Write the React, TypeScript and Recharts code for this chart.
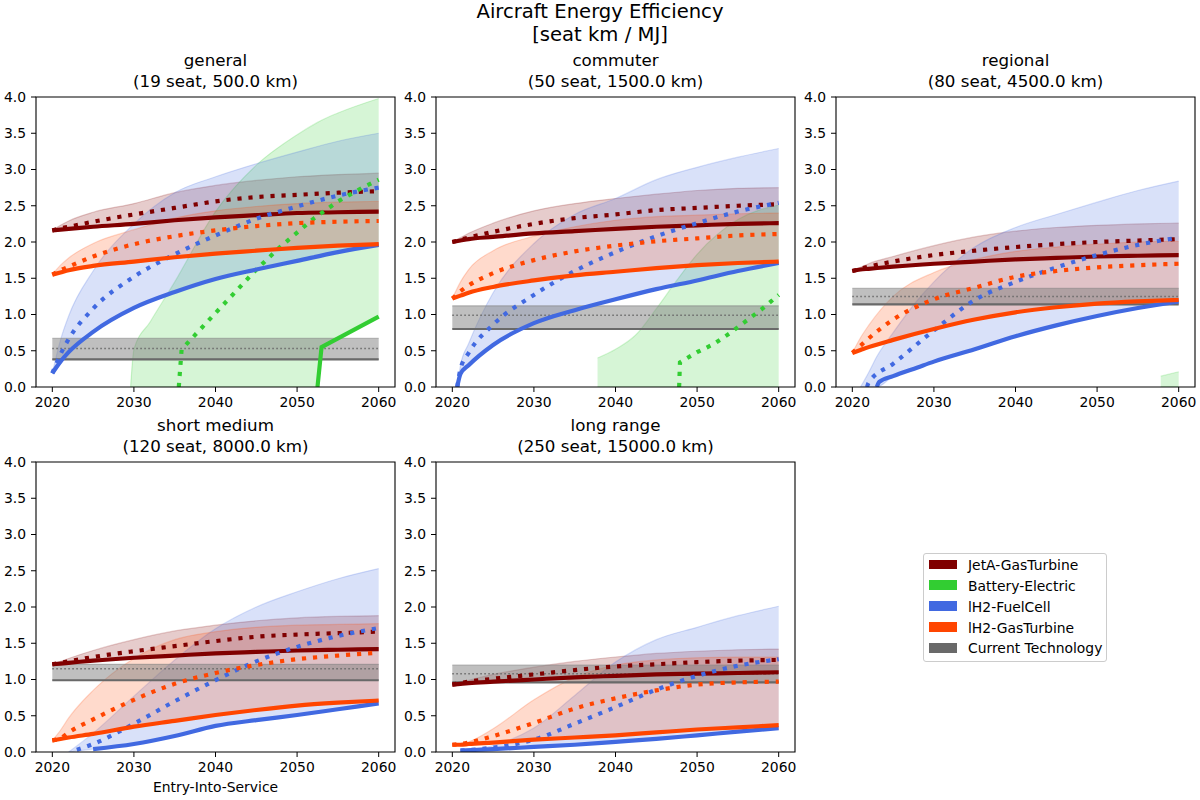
import React from 'react'
import { ComposedChart, Line, Area, XAxis, YAxis, ReferenceArea } from 'recharts'

// shared x grid for most curves
const YEARS = [2020, 2021, 2022, 2025, 2030, 2035, 2040, 2045, 2050, 2055, 2060]
const CURRENT_YEARS = [2020, 2060]
const X_TICKS = [2020, 2030, 2040, 2050, 2060]
const Y_TICKS = [0, 0.5, 1, 1.5, 2, 2.5, 3, 3.5, 4]

const JET = '#800000'
const BAT = '#32cd32'
const FC = '#4169e1'
const GT = '#ff4500'
const GRAY = '#808080'
const DIMGRAY = '#696969'

const LEGEND_LABELS = ['JetA-GasTurbine', 'Battery-Electric', 'lH2-FuelCell', 'lH2-GasTurbine', 'Current Technology']
const LEGEND_COLORS = [JET, BAT, FC, GT, DIMGRAY]

// general (19 seat, 500 km)
const genJetSolid = [2.16, 2.17, 2.18, 2.21, 2.25, 2.3, 2.34, 2.37, 2.4, 2.41, 2.42]
const genJetDotted = [2.16, 2.19, 2.21, 2.28, 2.38, 2.47, 2.56, 2.62, 2.65, 2.68, 2.7]
const genJetHigh = [2.16, 2.23, 2.29, 2.41, 2.53, 2.68, 2.78, 2.85, 2.9, 2.93, 2.95]
const genGtSolid = [1.55, 1.58, 1.61, 1.67, 1.73, 1.79, 1.84, 1.88, 1.92, 1.95, 1.97]
const genGtDotted = [1.55, 1.61, 1.66, 1.8, 1.97, 2.08, 2.16, 2.22, 2.26, 2.28, 2.29]
const genGtHigh = [1.55, 1.68, 1.78, 1.98, 2.17, 2.33, 2.43, 2.49, 2.53, 2.55, 2.56]
const genFcSolid = [0.19, 0.35, 0.48, 0.76, 1.09, 1.31, 1.49, 1.62, 1.74, 1.86, 1.96]
const genFcDotted = [0.19, 0.45, 0.66, 1.08, 1.52, 1.83, 2.09, 2.32, 2.49, 2.64, 2.75]
const genFcHigh = [0.19, 0.65, 0.98, 1.6, 2.25, 2.68, 2.9, 3.08, 3.24, 3.39, 3.5]
const genBatBandYears = [2029.6, 2030, 2032, 2035, 2040, 2045, 2050, 2052.5, 2053, 2055, 2060]
const genBatBandLow = [0, 0, 0, 0, 0, 0, 0, 0, 0.55, 0.67, 0.97]
const genBatBandHigh = [0, 0.52, 0.9, 1.45, 2.42, 3.06, 3.48, 3.65, 3.68, 3.78, 3.98]
const genBatSolidYears = [2052.5, 2053, 2060]
const genBatSolid = [0, 0.55, 0.97]
const genBatDottedYears = [2035.5, 2035.85, 2040, 2045, 2048, 2050, 2052, 2055, 2058, 2060]
const genBatDotted = [0, 0.52, 1.02, 1.62, 1.94, 2.13, 2.32, 2.56, 2.75, 2.86]
const genCurrent = [0.38, 0.53, 0.67]

// commuter (50 seat, 1500 km)
const comJetSolid = [2.0, 2.02, 2.04, 2.07, 2.12, 2.15, 2.18, 2.21, 2.23, 2.25, 2.26]
const comJetDotted = [2.0, 2.03, 2.06, 2.14, 2.25, 2.33, 2.38, 2.44, 2.47, 2.5, 2.52]
const comJetHigh = [2.0, 2.06, 2.12, 2.26, 2.43, 2.53, 2.6, 2.66, 2.71, 2.74, 2.75]
const comGtSolid = [1.22, 1.26, 1.3, 1.38, 1.47, 1.54, 1.59, 1.64, 1.68, 1.71, 1.73]
const comGtDotted = [1.22, 1.32, 1.4, 1.57, 1.75, 1.87, 1.95, 2.01, 2.05, 2.09, 2.11]
const comGtHigh = [1.22, 1.45, 1.62, 1.88, 2.08, 2.21, 2.3, 2.35, 2.37, 2.39, 2.4]
const comFcYears = [2020.6, 2021, 2022, 2025, 2030, 2035, 2040, 2045, 2050, 2055, 2060]
const comFcSolid = [0, 0.18, 0.3, 0.58, 0.88, 1.06, 1.21, 1.35, 1.47, 1.6, 1.71]
const comFcDotted = [0, 0.25, 0.47, 0.86, 1.27, 1.6, 1.86, 2.08, 2.26, 2.42, 2.54]
const comFcHigh = [0, 0.3, 0.6, 1.3, 1.98, 2.38, 2.6, 2.86, 3.03, 3.17, 3.29]
const comBatBandYears = [2037.8, 2040, 2042.5, 2045, 2047.5, 2050, 2055, 2060]
const comBatBandLow = [0, 0, 0, 0, 0, 0, 0, 0]
const comBatBandHigh = [0.4, 0.52, 0.72, 1.08, 1.47, 1.83, 2.31, 2.51]
const comBatDottedYears = [2047.8, 2047.9, 2050, 2052, 2054, 2056, 2058, 2060]
const comBatDotted = [0, 0.34, 0.48, 0.59, 0.74, 0.91, 1.08, 1.27]
const comCurrent = [0.8, 0.99, 1.12]

// regional (80 seat, 4500 km)
const regJetSolid = [1.6, 1.62, 1.63, 1.66, 1.7, 1.73, 1.76, 1.78, 1.8, 1.81, 1.82]
const regJetDotted = [1.6, 1.63, 1.66, 1.73, 1.82, 1.88, 1.93, 1.97, 2.0, 2.02, 2.04]
const regJetHigh = [1.6, 1.65, 1.7, 1.8, 1.95, 2.07, 2.15, 2.2, 2.23, 2.25, 2.26]
const regGtSolid = [0.47, 0.51, 0.55, 0.65, 0.8, 0.93, 1.03, 1.1, 1.15, 1.18, 1.2]
const regGtDotted = [0.47, 0.57, 0.67, 0.93, 1.21, 1.37, 1.52, 1.6, 1.65, 1.68, 1.7]
const regGtHigh = [0.47, 0.68, 0.85, 1.25, 1.58, 1.76, 1.87, 1.93, 1.97, 2.0, 2.01]
const regFcSolidYears = [2023, 2023.3, 2025, 2028, 2030, 2035, 2040, 2045, 2050, 2055, 2060]
const regFcSolid = [0, 0.07, 0.15, 0.27, 0.35, 0.52, 0.7, 0.85, 0.98, 1.09, 1.18]
const regFcDottedYears = [2021.8, 2022, 2025, 2030, 2035, 2040, 2045, 2050, 2055, 2060]
const regFcDotted = [0, 0.06, 0.32, 0.78, 1.2, 1.45, 1.65, 1.82, 1.96, 2.06]
const regFcBandYears = [2021, 2022, 2023, 2025, 2028, 2030, 2035, 2040, 2045, 2050, 2055, 2060]
const regFcBandLow = [0, 0, 0, 0.15, 0.27, 0.35, 0.52, 0.7, 0.85, 0.98, 1.09, 1.18]
const regFcBandHigh = [0, 0.2, 0.42, 0.75, 1.2, 1.45, 1.93, 2.2, 2.38, 2.55, 2.71, 2.84]
const regBatBandYears = [2057.8, 2060]
const regBatBandLow = [0, 0]
const regBatBandHigh = [0.15, 0.21]
const regCurrent = [1.14, 1.25, 1.36]

// short medium (120 seat, 8000 km)
const smJetSolid = [1.21, 1.22, 1.23, 1.26, 1.3, 1.33, 1.36, 1.38, 1.4, 1.41, 1.42]
const smJetDotted = [1.21, 1.23, 1.25, 1.31, 1.39, 1.46, 1.53, 1.59, 1.62, 1.64, 1.66]
const smJetHigh = [1.21, 1.25, 1.29, 1.4, 1.55, 1.67, 1.75, 1.81, 1.85, 1.87, 1.88]
const smGtSolid = [0.16, 0.18, 0.2, 0.25, 0.35, 0.43, 0.51, 0.58, 0.64, 0.68, 0.71]
const smGtDotted = [0.16, 0.19, 0.27, 0.45, 0.72, 0.94, 1.09, 1.2, 1.28, 1.33, 1.37]
const smGtHigh = [0.16, 0.3, 0.47, 0.85, 1.29, 1.55, 1.66, 1.72, 1.75, 1.76, 1.77]
const smFcSolidYears = [2025, 2030, 2035, 2040, 2045, 2050, 2055, 2060]
const smFcSolid = [0.04, 0.11, 0.22, 0.36, 0.44, 0.51, 0.59, 0.67]
const smFcDottedYears = [2023, 2025, 2030, 2035, 2040, 2045, 2050, 2055, 2060]
const smFcDotted = [0.03, 0.11, 0.39, 0.7, 0.99, 1.25, 1.45, 1.6, 1.71]
const smFcBandYears = [2022, 2025, 2030, 2035, 2040, 2045, 2050, 2055, 2060]
const smFcBandLow = [0, 0.04, 0.11, 0.22, 0.36, 0.44, 0.51, 0.59, 0.67]
const smFcBandHigh = [0, 0.26, 0.77, 1.27, 1.7, 2.0, 2.21, 2.39, 2.53]
const smCurrent = [0.99, 1.15, 1.21]

// long range (250 seat, 15000 km)
const lrJetSolid = [0.93, 0.94, 0.95, 0.97, 1.0, 1.03, 1.05, 1.07, 1.08, 1.09, 1.1]
const lrJetDotted = [0.93, 0.95, 0.97, 1.01, 1.07, 1.13, 1.18, 1.21, 1.24, 1.26, 1.27]
const lrJetHigh = [0.93, 0.96, 0.99, 1.07, 1.17, 1.25, 1.31, 1.36, 1.39, 1.41, 1.42]
const lrGtSolid = [0.1, 0.1, 0.11, 0.13, 0.17, 0.2, 0.23, 0.27, 0.31, 0.34, 0.37]
const lrGtDotted = [0.1, 0.11, 0.13, 0.22, 0.4, 0.6, 0.74, 0.85, 0.93, 0.96, 0.97]
const lrGtHigh = [0.1, 0.11, 0.14, 0.32, 0.72, 1.03, 1.2, 1.27, 1.3, 1.31, 1.31]
const lrFcYears = [2021, 2025, 2030, 2035, 2040, 2045, 2050, 2055, 2060]
const lrFcSolid = [0.02, 0.04, 0.07, 0.1, 0.14, 0.18, 0.23, 0.28, 0.33]
const lrFcDotted = [0.02, 0.06, 0.17, 0.39, 0.62, 0.86, 1.05, 1.19, 1.28]
const lrFcHigh = [0.02, 0.09, 0.33, 0.78, 1.24, 1.55, 1.72, 1.88, 2.01]
const lrCurrent = [0.96, 1.08, 1.2]

type LineSpec = { xs: number[]; ys: number[]; color: string; width?: number; dash?: string; linear?: boolean }
type BandSpec = { xs: number[]; lo: number[]; hi: number[]; color: string; opacity?: number }

const DOTS = '4.17 6.88'
// plot area is 359 x 290; the chart box adds room for the tick labels
const PAD_L = 36
const PAD_T = 15
const PAD_R = 25
const PAD_B = 30
const CW = PAD_L + 359 + PAD_R
const CH = PAD_T + 290 + PAD_B

const solid = (xs: number[], ys: number[], color: string, linear = false): LineSpec => ({ xs, ys, color, linear })
const dotted = (xs: number[], ys: number[], color: string, linear = false): LineSpec => ({ xs, ys, color, dash: DOTS, linear })
const band = (xs: number[], lo: number[], hi: number[], color: string): BandSpec => ({ xs, lo, hi, color })

const PANELS = [
  {
    name: 'general', sub: '(19 seat, 500.0 km)', left: 36, top: 97, current: genCurrent,
    bands: [
      band(YEARS, genJetSolid, genJetHigh, JET),
      band(genBatBandYears, genBatBandLow, genBatBandHigh, BAT),
      band(YEARS, genFcSolid, genFcHigh, FC),
      band(YEARS, genGtSolid, genGtHigh, GT),
    ],
    lines: [
      solid(YEARS, genJetSolid, JET), dotted(YEARS, genJetDotted, JET),
      solid(genBatSolidYears, genBatSolid, BAT, true), dotted(genBatDottedYears, genBatDotted, BAT, true),
      solid(YEARS, genFcSolid, FC), dotted(YEARS, genFcDotted, FC),
      solid(YEARS, genGtSolid, GT), dotted(YEARS, genGtDotted, GT),
    ],
  },
  {
    name: 'commuter', sub: '(50 seat, 1500.0 km)', left: 436, top: 97, current: comCurrent,
    bands: [
      band(YEARS, comJetSolid, comJetHigh, JET),
      band(comBatBandYears, comBatBandLow, comBatBandHigh, BAT),
      band(comFcYears, comFcSolid, comFcHigh, FC),
      band(YEARS, comGtSolid, comGtHigh, GT),
    ],
    lines: [
      solid(YEARS, comJetSolid, JET), dotted(YEARS, comJetDotted, JET),
      dotted(comBatDottedYears, comBatDotted, BAT, true),
      solid(comFcYears, comFcSolid, FC), dotted(comFcYears, comFcDotted, FC),
      solid(YEARS, comGtSolid, GT), dotted(YEARS, comGtDotted, GT),
    ],
  },
  {
    name: 'regional', sub: '(80 seat, 4500.0 km)', left: 836, top: 97, current: regCurrent,
    bands: [
      band(YEARS, regJetSolid, regJetHigh, JET),
      band(regBatBandYears, regBatBandLow, regBatBandHigh, BAT),
      band(regFcBandYears, regFcBandLow, regFcBandHigh, FC),
      band(YEARS, regGtSolid, regGtHigh, GT),
    ],
    lines: [
      solid(YEARS, regJetSolid, JET), dotted(YEARS, regJetDotted, JET),
      solid(regFcSolidYears, regFcSolid, FC), dotted(regFcDottedYears, regFcDotted, FC),
      solid(YEARS, regGtSolid, GT), dotted(YEARS, regGtDotted, GT),
    ],
  },
  {
    name: 'short medium', sub: '(120 seat, 8000.0 km)', left: 36, top: 462, current: smCurrent, xLabel: true,
    bands: [
      band(YEARS, smJetSolid, smJetHigh, JET),
      band(smFcBandYears, smFcBandLow, smFcBandHigh, FC),
      band(YEARS, smGtSolid, smGtHigh, GT),
    ],
    lines: [
      solid(YEARS, smJetSolid, JET), dotted(YEARS, smJetDotted, JET),
      solid(smFcSolidYears, smFcSolid, FC), dotted(smFcDottedYears, smFcDotted, FC),
      solid(YEARS, smGtSolid, GT), dotted(YEARS, smGtDotted, GT),
    ],
  },
  {
    name: 'long range', sub: '(250 seat, 15000.0 km)', left: 436, top: 462, current: lrCurrent,
    bands: [
      band(YEARS, lrJetSolid, lrJetHigh, JET),
      band(lrFcYears, lrFcSolid, lrFcHigh, FC),
      band(YEARS, lrGtSolid, lrGtHigh, GT),
    ],
    lines: [
      solid(YEARS, lrJetSolid, JET), dotted(YEARS, lrJetDotted, JET),
      solid(lrFcYears, lrFcSolid, FC), dotted(lrFcYears, lrFcDotted, FC),
      solid(YEARS, lrGtSolid, GT), dotted(YEARS, lrGtDotted, GT),
    ],
  },
]

// one transparent chart per series, all stacked on the same plot area
function Layer({ data, axes = false, frame = false, children }: { data: any[]; axes?: boolean; frame?: boolean; children?: React.ReactNode }) {
  const tickStyle = { fill: '#000', fontSize: 13.9 }
  return (
    <div style={{ position: 'absolute', left: 0, top: 0 }}>
      <ComposedChart
        width={CW}
        height={CH}
        data={data}
        margin={
          axes
            ? { top: PAD_T, right: PAD_R, bottom: 0, left: 0 }
            : { top: PAD_T, right: PAD_R, bottom: PAD_B, left: PAD_L }
        }
      >
        <XAxis
          dataKey="x"
          type="number"
          domain={[2018, 2062]}
          ticks={X_TICKS}
          interval={0}
          allowDataOverflow
          hide={!axes}
          height={axes ? PAD_B : 0}
          axisLine={false}
          tickLine={{ stroke: '#000' }}
          tickSize={5}
          tickMargin={5.5}
          tick={tickStyle}
        />
        <YAxis
          type="number"
          domain={[0, 4]}
          ticks={Y_TICKS}
          interval={0}
          allowDataOverflow
          hide={!axes}
          width={axes ? PAD_L : 0}
          axisLine={false}
          tickLine={{ stroke: '#000' }}
          tickSize={5}
          tickMargin={5}
          tick={tickStyle}
          tickFormatter={(v: number) => v.toFixed(1)}
        />
        {children}
        {frame && (
          <ReferenceArea x1={2018} x2={2062} y1={0} y2={4} fill="none" fillOpacity={0} stroke="#000" strokeWidth={1.1} ifOverflow="visible" />
        )}
      </ComposedChart>
    </div>
  )
}

function Panel({ name, sub, left, top, current, bands, lines, xLabel }: any) {
  const allBands: BandSpec[] = [
    ...bands.map((b: BandSpec) => ({ ...b, opacity: 0.2 })),
    { xs: CURRENT_YEARS, lo: [current[0], current[0]], hi: [current[2], current[2]], color: GRAY, opacity: 0.5 },
  ]
  const allLines: LineSpec[] = [
    { xs: CURRENT_YEARS, ys: [current[0], current[0]], color: DIMGRAY, width: 2.2, linear: true },
    { xs: CURRENT_YEARS, ys: [current[1], current[1]], color: DIMGRAY, width: 1.5, dash: '1.5 2.5', linear: true },
    ...lines,
  ]
  const titleStyle: React.CSSProperties = {
    position: 'absolute', left, width: 359, textAlign: 'center',
    fontSize: 16.7, lineHeight: '21px', whiteSpace: 'nowrap',
  }
  return (
    <>
      <div style={{ ...titleStyle, top: top - 47 }}>{name}</div>
      <div style={{ ...titleStyle, top: top - 26 }}>{sub}</div>
      <div style={{ position: 'absolute', left: left - PAD_L, top: top - PAD_T, width: CW, height: CH }}>
        {allBands.map((b, i) => (
          <Layer key={'b' + i} axes={i === 0} data={b.xs.map((x, j) => ({ x, r: [b.lo[j], b.hi[j]] }))}>
            <Area
              dataKey="r"
              type="monotone"
              fill={b.color}
              fillOpacity={b.opacity}
              stroke={b.color}
              strokeOpacity={b.opacity}
              strokeWidth={1.2}
              dot={false}
              activeDot={false}
              isAnimationActive={false}
            />
          </Layer>
        ))}
        {allLines.map((l, i) => (
          <Layer key={'l' + i} frame={i === allLines.length - 1} data={l.xs.map((x, j) => ({ x, v: l.ys[j] }))}>
            <Line
              dataKey="v"
              type={l.linear ? 'linear' : 'monotone'}
              stroke={l.color}
              strokeWidth={l.width ?? 4.17}
              strokeDasharray={l.dash}
              dot={false}
              activeDot={false}
              isAnimationActive={false}
            />
          </Layer>
        ))}
      </div>
      {xLabel && (
        <div
          style={{
            position: 'absolute', left, top: top + 317.3, width: 359, textAlign: 'center',
            fontSize: 13.9, lineHeight: '16.7px',
          }}
        >
          Entry-Into-Service
        </div>
      )}
    </>
  )
}

function LegendBox() {
  return (
    <div
      style={{
        position: 'absolute', left: 923, top: 553, width: 184, height: 109,
        border: '1px solid #cccccc', borderRadius: 3, boxSizing: 'border-box', background: 'rgba(255,255,255,0.8)',
      }}
    >
      {LEGEND_LABELS.map((label, i) => (
        <React.Fragment key={label}>
          <div
            style={{ position: 'absolute', left: 5, top: 5.5 + i * 20.9, width: 28, height: 9.7, background: LEGEND_COLORS[i] }}
          />
          <div
            style={{
              position: 'absolute', left: 44, top: 2.8 + i * 20.9, fontSize: 13.9, lineHeight: '16.7px', whiteSpace: 'nowrap',
            }}
          >
            {label}
          </div>
        </React.Fragment>
      ))}
    </div>
  )
}

export default function App() {
  const supStyle: React.CSSProperties = {
    position: 'absolute', left: 0, width: 1200, textAlign: 'center', fontSize: 19.6, lineHeight: '22.8px',
  }
  return (
    <div
      style={{
        position: 'absolute', left: 0, top: 0, width: 1200, height: 800, overflow: 'hidden',
        background: '#fff', color: '#000', fontFamily: '"DejaVu Sans", sans-serif',
      }}
    >
      <div style={{ ...supStyle, top: 0.8 }}>Aircraft Energy Efficiency</div>
      <div style={{ ...supStyle, top: 23.7 }}>[seat km / MJ]</div>
      {PANELS.map(p => (
        <Panel key={p.name} {...p} />
      ))}
      <LegendBox />
    </div>
  )
}
